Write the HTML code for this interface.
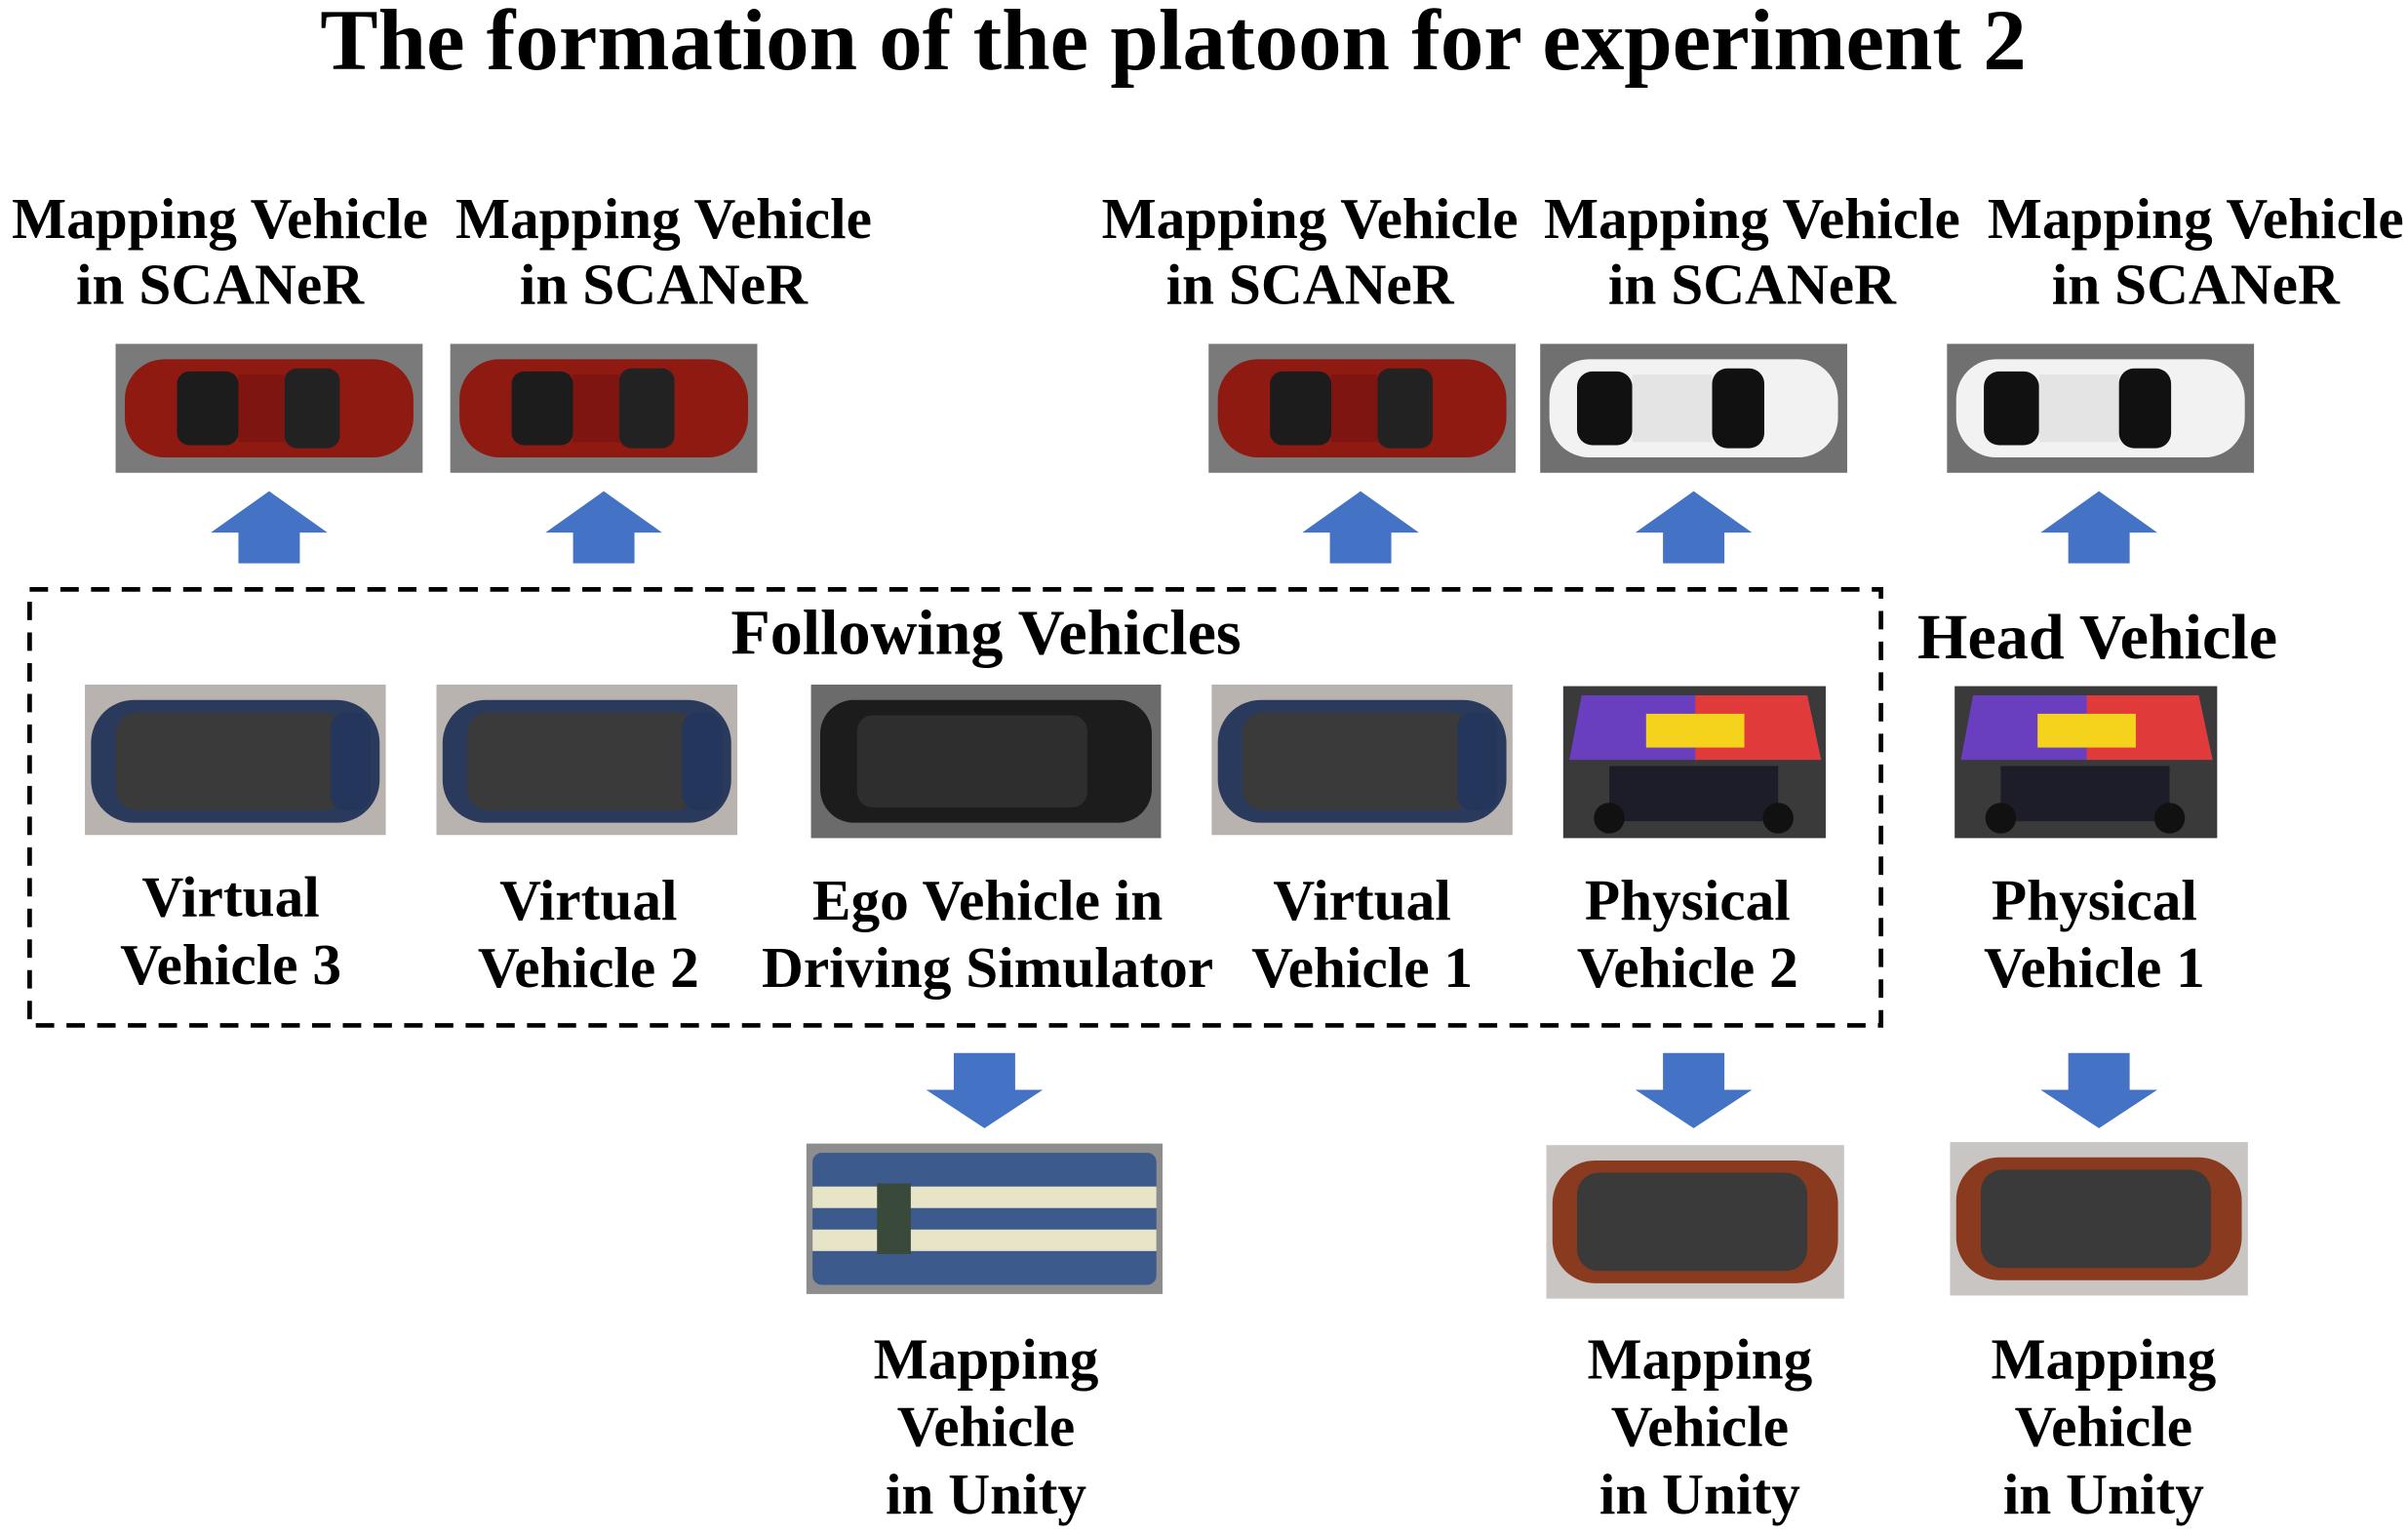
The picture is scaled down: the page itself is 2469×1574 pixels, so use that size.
<!DOCTYPE html>
<html><head><meta charset="utf-8">
<style>
html,body{margin:0;padding:0;background:#fff;}
svg{display:block;}
text{font-family:"Liberation Serif",serif;font-weight:bold;fill:#000;text-anchor:middle;}
</style></head>
<body>
<svg width="2469" height="1574" viewBox="0 0 1568 1000" xmlns="http://www.w3.org/2000/svg">
<defs>
  <g id="car-red">
    <rect x="0" y="0" width="200" height="84" fill="#7a7a7a"/>
    <rect x="6" y="10" width="188" height="64" rx="26" fill="#8e1a12"/>
    <rect x="40" y="18" width="40" height="48" rx="8" fill="#1c1c1c"/>
    <rect x="110" y="16" width="36" height="52" rx="8" fill="#222"/>
    <rect x="80" y="20" width="30" height="44" fill="#7e1510"/>
  </g>
  <g id="car-white">
    <rect x="0" y="0" width="200" height="84" fill="#707070"/>
    <rect x="6" y="10" width="188" height="64" rx="26" fill="#f2f2f2"/>
    <rect x="24" y="18" width="36" height="48" rx="10" fill="#111"/>
    <rect x="112" y="16" width="34" height="52" rx="10" fill="#111"/>
    <rect x="60" y="20" width="52" height="44" fill="#e4e4e4"/>
  </g>
  <g id="car-blue">
    <rect x="0" y="0" width="196" height="98" fill="#b9b3b0"/>
    <rect x="4" y="10" width="188" height="80" rx="28" fill="#2a3a5c"/>
    <rect x="20" y="18" width="150" height="64" rx="14" fill="#3a3a3a"/>
    <rect x="160" y="18" width="26" height="64" rx="10" fill="#24365c"/>
  </g>
  <g id="car-dark">
    <rect x="0" y="0" width="228" height="100" fill="#6b6b6b"/>
    <rect x="6" y="10" width="216" height="80" rx="22" fill="#1c1c1c"/>
    <rect x="30" y="20" width="150" height="60" rx="10" fill="#2e2e2e"/>
  </g>
  <g id="car-phys">
    <rect x="0" y="0" width="171" height="99" fill="#3a3a3a"/>
    <polygon points="12,6 159,6 168,48 4,48" fill="#6a3fbf"/>
    <polygon points="86,6 159,6 168,48 86,48" fill="#e03a3a"/>
    <rect x="54" y="18" width="64" height="22" fill="#f5d21c"/>
    <rect x="30" y="52" width="110" height="36" fill="#1d1d2a"/>
    <circle cx="30" cy="86" r="10" fill="#111"/>
    <circle cx="140" cy="86" r="10" fill="#111"/>
  </g>
  <g id="car-orange">
    <rect x="0" y="0" width="194" height="100" fill="#c9c5c3"/>
    <rect x="4" y="10" width="186" height="80" rx="28" fill="#8a3a1e"/>
    <rect x="20" y="18" width="150" height="64" rx="14" fill="#3a3a3a"/>
  </g>
  <g id="car-stripe">
    <rect x="0" y="0" width="232" height="98" fill="#8d8d8d"/>
    <rect x="4" y="6" width="224" height="86" rx="6" fill="#3c5a8c"/>
    <rect x="4" y="28" width="224" height="14" fill="#e8e4c8"/>
    <rect x="4" y="56" width="224" height="14" fill="#e8e4c8"/>
    <rect x="46" y="26" width="22" height="46" fill="#3a4a3a"/>
  </g>
  <polygon id="arrow-up" points="0,0 38,27 20,27 20,47 -20,47 -20,27 -38,27" fill="#4472c4"/>
  <polygon id="arrow-down" points="-20,0 20,0 20,24 38,24 0,49 -38,24 -20,24" fill="#4472c4"/>
</defs>

<text x="764" y="45" font-size="56.5">The formation of the platoon for experiment 2</text>

<g font-size="37.7">
  <text x="143" y="155">Mapping Vehicle</text><text x="143" y="198">in SCANeR</text>
  <text x="432" y="155">Mapping Vehicle</text><text x="432" y="198">in SCANeR</text>
  <text x="853" y="155">Mapping Vehicle</text><text x="853" y="198">in SCANeR</text>
  <text x="1141" y="155">Mapping Vehicle</text><text x="1141" y="198">in SCANeR</text>
  <text x="1430" y="155">Mapping Vehicle</text><text x="1430" y="198">in SCANeR</text>
</g>

<use href="#car-red" x="75" y="224"/>
<use href="#car-red" x="293" y="224"/>
<use href="#car-red" x="787" y="224"/>
<use href="#car-white" x="1003" y="224"/>
<use href="#car-white" x="1268" y="224"/>

<use href="#arrow-up" x="175" y="320"/>
<use href="#arrow-up" x="393" y="320"/>
<use href="#arrow-up" x="886" y="320"/>
<use href="#arrow-up" x="1103" y="320"/>
<use href="#arrow-up" x="1367" y="320"/>

<rect x="19" y="384" width="1206" height="284" fill="none" stroke="#000" stroke-width="3" stroke-dasharray="12,8"/>
<text x="642" y="426" font-size="42">Following Vehicles</text>
<text x="1366" y="429" font-size="42">Head Vehicle</text>

<use href="#car-blue" x="55" y="446"/>
<use href="#car-blue" x="284" y="446"/>
<use href="#car-dark" x="528" y="446"/>
<use href="#car-blue" x="789" y="446"/>
<use href="#car-phys" x="1018" y="447"/>
<use href="#car-phys" x="1273" y="447"/>

<g font-size="37.7">
  <text x="150" y="597">Virtual</text><text x="150" y="641">Vehicle 3</text>
  <text x="383" y="599">Virtual</text><text x="383" y="643">Vehicle 2</text>
  <text x="643" y="599">Ego Vehicle in</text><text x="643" y="643">Driving Simulator</text>
  <text x="887" y="599">Virtual</text><text x="887" y="643">Vehicle 1</text>
  <text x="1099" y="599">Physical</text><text x="1099" y="643">Vehicle 2</text>
  <text x="1364" y="599">Physical</text><text x="1364" y="643">Vehicle 1</text>
</g>

<use href="#arrow-down" x="641" y="686"/>
<use href="#arrow-down" x="1103" y="686"/>
<use href="#arrow-down" x="1367" y="686"/>

<use href="#car-stripe" x="525" y="745"/>
<use href="#car-orange" x="1007" y="746"/>
<use href="#car-orange" x="1270" y="744"/>

<g font-size="37.7">
  <text x="642" y="898">Mapping</text><text x="642" y="942">Vehicle</text><text x="642" y="986">in Unity</text>
  <text x="1107" y="898">Mapping</text><text x="1107" y="942">Vehicle</text><text x="1107" y="986">in Unity</text>
  <text x="1370" y="898">Mapping</text><text x="1370" y="942">Vehicle</text><text x="1370" y="986">in Unity</text>
</g>
</svg>
</body></html>
